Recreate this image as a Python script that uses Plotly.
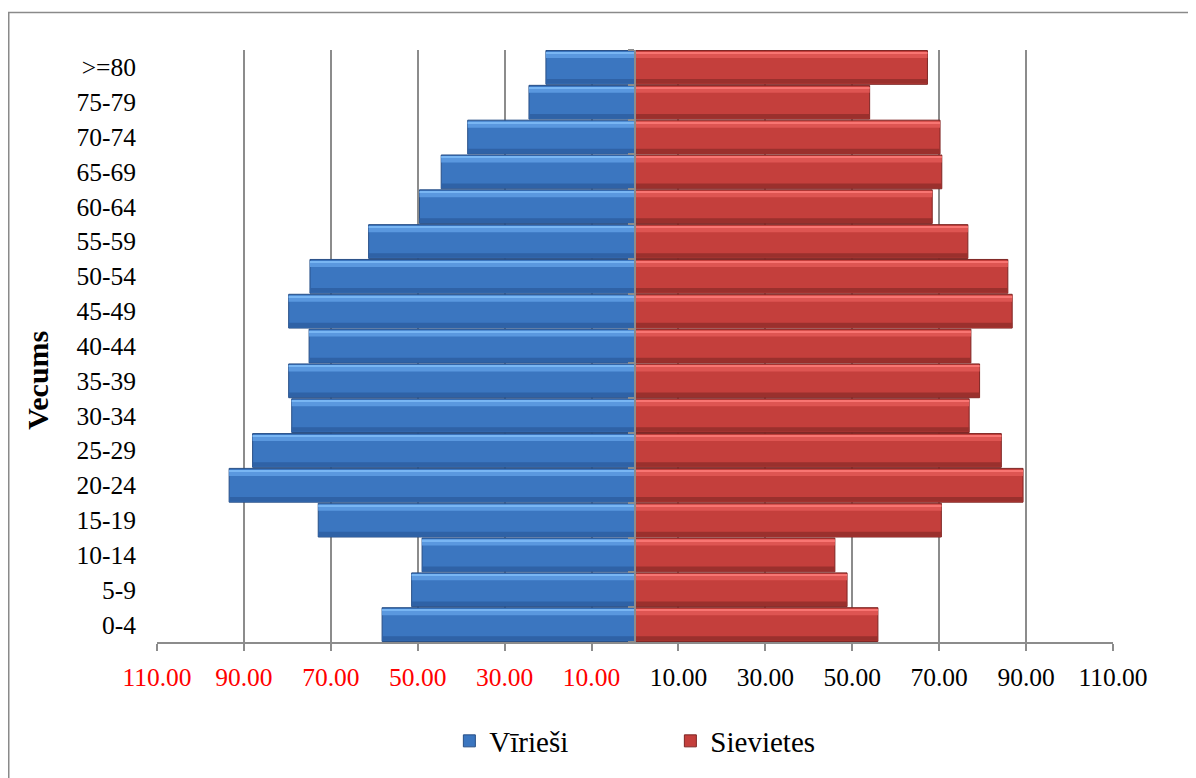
import plotly.graph_objects as go

age_groups = ["0-4", "5-9", "10-14", "15-19", "20-24", "25-29", "30-34", "35-39",
              "40-44", "45-49", "50-54", "55-59", "60-64", "65-69", "70-74", "75-79", ">=80"]
men = [58.2, 51.4, 49.0, 72.9, 93.4, 88.0, 79.0, 79.7, 75.0, 79.7, 74.8, 61.3,
       49.6, 44.6, 38.5, 24.4, 20.5]
women = [55.9, 48.8, 46.0, 70.5, 89.3, 84.3, 76.9, 79.3, 77.3, 86.8, 85.8, 76.6,
         68.4, 70.6, 70.2, 54.0, 67.3]
tick_values = [-110, -90, -70, -50, -30, -10, 10, 30, 50, 70, 90, 110]
series_names = ["Vīrieši", "Sievietes"]
axis_title = "Vecums"

FONT = "Liberation Serif, Times New Roman, serif"
GRID = "#8c8c8c"
TICK_SIZE = 25.5

men_neg = [-v for v in men]

fig = go.Figure()

fig.add_trace(go.Bar(y=age_groups, x=men_neg, orientation="h", name=series_names[0],
                     width=0.97, marker=dict(color="#3b76c0", line=dict(color="#284f86", width=1)),
                     hoverinfo="skip"))
fig.add_trace(go.Bar(y=age_groups, x=women, orientation="h", name=series_names[1],
                     width=0.97, marker=dict(color="#c43f3c", line=dict(color="#7e2523", width=1)),
                     hoverinfo="skip"))

def strip(xvals, color, offset, width):
    return go.Bar(y=age_groups, x=xvals, orientation="h", showlegend=False,
                  offset=offset, width=width, hoverinfo="skip",
                  marker=dict(color=color, line=dict(width=0)))

fig.add_trace(strip(men_neg, "#5a98df", 0.27, 0.17))
fig.add_trace(strip(men_neg, "#79b6f3", 0.40, 0.04))
fig.add_trace(strip(men_neg, "#2f62a6", -0.465, 0.13))
fig.add_trace(strip(women, "#de5552", 0.27, 0.17))
fig.add_trace(strip(women, "#f87572", 0.40, 0.04))
fig.add_trace(strip(women, "#9a302d", -0.465, 0.13))

# invisible trace carrying the central category axis (ticks between categories)
fig.add_trace(go.Scatter(y=age_groups, x=men_neg, mode="markers", yaxis="y2",
                         marker=dict(opacity=0, size=1), showlegend=False, hoverinfo="skip"))

ticktext = []
for v in tick_values:
    lab = f"{abs(v):.2f}"
    if v < 0:
        lab = f"<span style='color:#ff0000'>{lab}</span>"
    ticktext.append(lab)

cat_range = [-0.5, len(age_groups) - 0.5]
PLOT_H = 770 - 42 - 130

fig.update_layout(
    width=1188, height=770,
    margin=dict(l=149, r=83, t=42, b=130),
    paper_bgcolor="white", plot_bgcolor="white",
    barmode="overlay",
    font=dict(family=FONT, size=TICK_SIZE, color="black"),
    showlegend=True,
    legend=dict(orientation="h", x=0.537, xanchor="center", y=-100 / PLOT_H, yanchor="middle",
                font=dict(family=FONT, size=29, color="black"),
                entrywidth=176, entrywidthmode="pixels", traceorder="normal"),
    xaxis=dict(range=[-110, 110], tickvals=tick_values, ticktext=ticktext,
               showgrid=True, gridcolor=GRID, gridwidth=1.5,
               zeroline=False, showline=True, linecolor=GRID, linewidth=1.5,
               ticks="outside", ticklen=7, tickcolor=GRID, tickwidth=1.5,
               ticklabelstandoff=5,
               tickfont=dict(family=FONT, size=TICK_SIZE, color="black"), fixedrange=True),
    yaxis=dict(categoryorder="array", categoryarray=age_groups, range=cat_range,
               showgrid=False, zeroline=False, showline=False, ticks="",
               ticklabelstandoff=20,
               tickfont=dict(family=FONT, size=TICK_SIZE, color="black"),
               fixedrange=True),
    yaxis2=dict(categoryorder="array", categoryarray=age_groups, range=cat_range,
                overlaying="y", anchor="free", position=0.5, side="left",
                showticklabels=False, showgrid=False, zeroline=False,
                showline=True, linecolor=GRID, linewidth=1.5,
                ticks="outside", tickson="boundaries", ticklen=6, tickcolor=GRID, tickwidth=1.5,
                layer="above traces", fixedrange=True),
    annotations=[
        dict(text=f"<b>{axis_title}</b>", xref="paper", yref="paper",
             x=(30 - 149) / 956, y=(637 - 373) / PLOT_H, textangle=-90,
             showarrow=False, xanchor="center", yanchor="middle",
             font=dict(family=FONT, size=30, color="black")),
    ],
    shapes=[
        dict(type="rect", xref="paper", yref="paper",
             x0=(0.75 - 149) / 956, x1=1.2, y0=-0.3, y1=(PLOT_H + 42 - 4) / PLOT_H,
             line=dict(color="#8a8a8a", width=1.5), fillcolor="rgba(0,0,0,0)", layer="below"),
    ],
)

fig.write_html("out.html")
